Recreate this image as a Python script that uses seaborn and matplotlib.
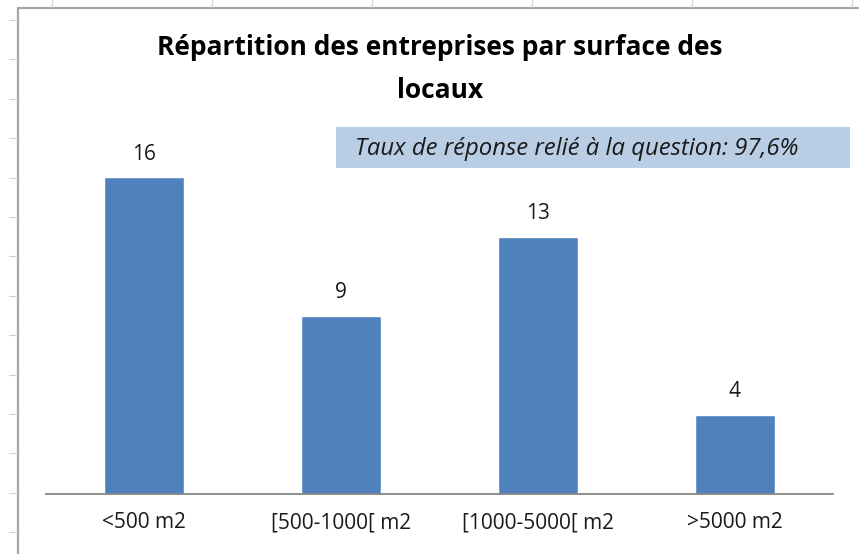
import numpy as np
import pandas as pd
import matplotlib
matplotlib.use('Agg')
import matplotlib.pyplot as plt
import seaborn as sns
from matplotlib.patches import Rectangle
from matplotlib.lines import Line2D

# données du graphique
categories = ['<500 m2', '[500-1000[ m2', '[1000-5000[ m2', '>5000 m2']
nb_entreprises = [16, 9, 13, 4]
titre = 'Répartition des entreprises par surface des\nlocaux'
note = 'Taux de réponse relié à la question: 97,6%'

df = pd.DataFrame({'surface': categories, 'nb': nb_entreprises})

sns.set_style('white')
plt.rcParams['font.family'] = ['Open Sans', 'DejaVu Sans']

fig = plt.figure(figsize=(8.59, 5.54), dpi=100)
W, H = 859, 554
ax = fig.add_axes([46 / W, 60 / H, 787 / W, 356.4 / H])

sns.barplot(data=df, x='surface', y='nb', color='#4f81bd', width=0.407,
            saturation=1, ax=ax)
ax.set_xlim(-0.5, 3.5)
ax.set_ylim(0, 18)
for c in ax.containers:
    ax.bar_label(c, padding=9, fontsize=15, color='#1a1a1a')

ax.set_xlabel(''); ax.set_ylabel('')
ax.set_yticks([])
ax.tick_params(axis='x', length=0, labelsize=15, pad=13, colors='#1a1a1a')
for s in ['top', 'right', 'left']:
    ax.spines[s].set_visible(False)
ax.spines['bottom'].set_color('#868686')
ax.spines['bottom'].set_linewidth(1.3)
ax.patch.set_alpha(0)

# titre
fig.text(440 / W, 1 - 69 / H, titre, ha='center', va='center', fontsize=19,
         fontweight='bold', linespacing=1.75, color='#000000',
         multialignment='center')

# encadré du taux de réponse
fig.patches.append(Rectangle((336 / W, 1 - 168 / H), 514 / W, 41 / H,
                             transform=fig.transFigure, facecolor='#b9cde5',
                             edgecolor='none', zorder=0))
fig.text(355 / W, 1 - 149 / H, note, ha='left', va='center', fontsize=17.2,
         style='italic', color='#1a1a1a')

# cadre du graphique et quadrillage de la feuille
fig.lines.append(Line2D([18 / W, 18 / W], [0, 1 - 8 / H], transform=fig.transFigure,
                        color='#a6a6a6', lw=1.6))
fig.lines.append(Line2D([18 / W, 1], [1 - 8 / H, 1 - 8 / H], transform=fig.transFigure,
                        color='#a6a6a6', lw=1.6))
for xg in [52, 212, 372, 532, 692, 852]:
    fig.lines.append(Line2D([xg / W, xg / W], [1 - 7 / H, 1], transform=fig.transFigure,
                            color='#d4d4d4', lw=0.8))
for yg in np.arange(20, 554, 39.4):
    fig.lines.append(Line2D([9 / W, 17 / W], [1 - yg / H, 1 - yg / H],
                            transform=fig.transFigure, color='#d4d4d4', lw=0.8))

fig.savefig('out.png', dpi=100)
